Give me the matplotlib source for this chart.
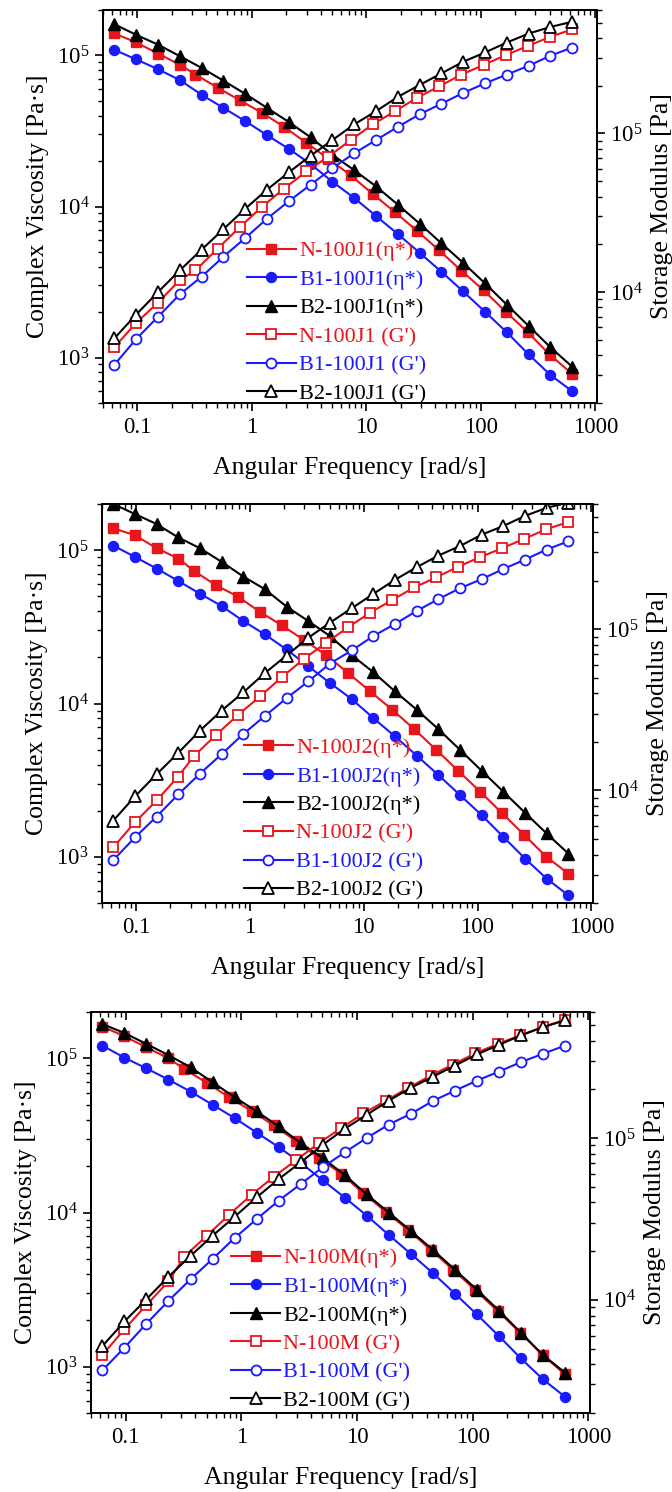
import matplotlib
matplotlib.use('Agg')
import matplotlib.pyplot as plt
from matplotlib.ticker import LogLocator, NullFormatter, FixedLocator, FixedFormatter

plt.rcParams['font.family'] = ['Liberation Serif', 'DejaVu Serif']
plt.rcParams['mathtext.fontset'] = 'stix'

# ---------------- data ----------------
# angular frequency of the B1 / B2 series [rad/s]
omega = [0.0628, 0.0974, 0.151, 0.234, 0.363, 0.563, 0.873, 1.353, 2.098, 3.253, 5.044,
         7.82, 12.13, 18.8, 29.15, 45.2, 70.09, 108.7, 168.5, 261.2, 405.1, 628.1]
# angular frequency of the N series [rad/s]
omega_N = [0.0628, 0.0974, 0.151, 0.234, 0.321, 0.502, 0.784, 1.224, 1.912, 2.985, 4.662,
           7.282, 11.37, 17.76, 27.73, 43.31, 67.64, 105.6, 165.0, 257.6, 402.3, 628.1]

# ---- panel 1 : J1 ----
J1_N_eta = [1.40e5, 1.22e5, 1.03e5, 8.69e4, 7.48e4, 6.12e4, 5.05e4, 4.17e4, 3.37e4, 2.64e4, 2.07e4,
            1.61e4, 1.21e4, 9.18e3, 6.90e3, 5.12e3, 3.76e3, 2.79e3, 2.01e3, 1.47e3, 1.04e3, 780]
J1_B1_eta = [1.09e5, 9.42e4, 8.11e4, 6.88e4, 5.50e4, 4.50e4, 3.68e4, 2.97e4, 2.41e4, 1.91e4, 1.46e4,
             1.14e4, 8.65e3, 6.58e3, 4.94e3, 3.70e3, 2.74e3, 2.01e3, 1.47e3, 1.05e3, 767, 598]
J1_B2_eta = [1.61e5, 1.37e5, 1.18e5, 9.90e4, 8.28e4, 6.81e4, 5.57e4, 4.50e4, 3.63e4, 2.87e4, 2.20e4,
             1.74e4, 1.36e4, 1.03e4, 7.71e3, 5.71e3, 4.24e3, 3.10e3, 2.24e3, 1.62e3, 1.17e3, 869]
J1_N_G = [4.49e3, 6.40e3, 8.58e3, 1.19e4, 1.37e4, 1.88e4, 2.57e4, 3.45e4, 4.49e4, 5.76e4, 7.15e4,
          9.08e4, 1.14e5, 1.38e5, 1.68e5, 1.98e5, 2.35e5, 2.70e5, 3.12e5, 3.56e5, 4.06e5, 4.53e5]
J1_B1_G = [3.48e3, 5.06e3, 6.98e3, 9.67e3, 1.25e4, 1.67e4, 2.19e4, 2.90e4, 3.74e4, 4.75e4, 6.04e4,
           7.50e4, 9.08e4, 1.10e5, 1.32e5, 1.54e5, 1.80e5, 2.07e5, 2.35e5, 2.67e5, 3.09e5, 3.48e5]
J1_B2_G = [5.11e3, 7.21e3, 1.00e4, 1.37e4, 1.85e4, 2.49e4, 3.35e4, 4.42e4, 5.68e4, 7.24e4, 9.08e4,
           1.14e5, 1.38e5, 1.70e5, 2.02e5, 2.39e5, 2.83e5, 3.24e5, 3.74e5, 4.26e5, 4.69e5, 5.06e5]

# ---- panel 2 : J2 ----
J2_N_eta = [1.39e5, 1.25e5, 1.03e5, 8.82e4, 7.33e4, 5.90e4, 4.98e4, 3.95e4, 3.23e4, 2.59e4, 2.07e4,
            1.58e4, 1.20e4, 9.12e3, 6.81e3, 4.99e3, 3.64e3, 2.66e3, 1.92e3, 1.39e3, 1.00e3, 778]
J2_B1_eta = [1.07e5, 9.04e4, 7.59e4, 6.30e4, 5.20e4, 4.32e4, 3.45e4, 2.82e4, 2.25e4, 1.75e4, 1.36e4,
             1.07e4, 8.04e3, 6.10e3, 4.58e3, 3.42e3, 2.53e3, 1.87e3, 1.35e3, 975, 721, 561]
J2_B2_eta = [2.00e5, 1.72e5, 1.48e5, 1.21e5, 1.03e5, 8.39e4, 6.73e4, 5.56e4, 4.28e4, 3.45e4, 2.75e4,
             2.07e4, 1.60e4, 1.20e4, 9.12e3, 6.81e3, 4.99e3, 3.64e3, 2.66e3, 1.94e3, 1.42e3, 1.05e3]
J2_N_G = [4.43e3, 6.34e3, 8.66e3, 1.22e4, 1.63e4, 2.21e4, 2.94e4, 3.83e4, 5.06e4, 6.56e4, 8.25e4,
          1.03e5, 1.27e5, 1.52e5, 1.82e5, 2.10e5, 2.45e5, 2.81e5, 3.19e5, 3.65e5, 4.18e5, 4.64e5]
J2_B1_G = [3.69e3, 5.11e3, 6.88e3, 9.44e3, 1.27e4, 1.68e4, 2.24e4, 2.90e4, 3.74e4, 4.75e4, 6.13e4,
           7.39e4, 9.08e4, 1.08e5, 1.30e5, 1.54e5, 1.80e5, 2.05e5, 2.37e5, 2.71e5, 3.13e5, 3.52e5]
J2_B2_G = [6.49e3, 9.17e3, 1.26e4, 1.71e4, 2.35e4, 3.13e4, 4.06e4, 5.36e4, 6.88e4, 8.87e4, 1.10e5,
           1.35e5, 1.66e5, 2.03e5, 2.43e5, 2.87e5, 3.29e5, 3.87e5, 4.38e5, 5.06e5, 5.68e5, 6.13e5]

# ---- panel 3 : M ----
M_N_eta = [1.61e5, 1.39e5, 1.18e5, 1.00e5, 8.53e4, 6.93e4, 5.60e4, 4.55e4, 3.67e4, 2.90e4, 2.26e4,
           1.79e4, 1.33e4, 1.01e4, 7.71e3, 5.73e3, 4.26e3, 3.13e3, 2.29e3, 1.66e3, 1.19e3, 892]
M_B1_eta = [1.21e5, 1.01e5, 8.61e4, 7.28e4, 6.09e4, 5.00e4, 4.10e4, 3.30e4, 2.66e4, 2.10e4, 1.62e4,
            1.25e4, 9.55e3, 7.16e3, 5.40e3, 4.05e3, 2.98e3, 2.18e3, 1.58e3, 1.13e3, 828, 637]
M_B2_eta = [1.67e5, 1.46e5, 1.24e5, 1.05e5, 8.75e4, 7.00e4, 5.60e4, 4.53e4, 3.62e4, 2.82e4, 2.26e4,
            1.75e4, 1.31e4, 1.00e4, 7.60e3, 5.73e3, 4.26e3, 3.16e3, 2.31e3, 1.66e3, 1.19e3, 914]
M_N_G = [4.57e3, 6.59e3, 9.31e3, 1.30e4, 1.85e4, 2.49e4, 3.36e4, 4.46e4, 5.77e4, 7.31e4, 9.27e4,
         1.15e5, 1.42e5, 1.70e5, 2.04e5, 2.43e5, 2.84e5, 3.34e5, 3.81e5, 4.30e5, 4.84e5, 5.37e5]
M_B1_G = [3.67e3, 5.07e3, 7.14e3, 9.86e3, 1.34e4, 1.79e4, 2.41e4, 3.15e4, 4.10e4, 5.19e4, 6.59e4,
          8.15e4, 1.00e5, 1.21e5, 1.41e5, 1.69e5, 1.96e5, 2.26e5, 2.57e5, 2.94e5, 3.31e5, 3.72e5]
M_B2_G = [5.19e3, 7.35e3, 1.01e4, 1.39e4, 1.87e4, 2.49e4, 3.26e4, 4.30e4, 5.57e4, 7.07e4, 9.06e4,
          1.14e5, 1.39e5, 1.70e5, 2.04e5, 2.39e5, 2.80e5, 3.28e5, 3.76e5, 4.30e5, 4.84e5, 5.32e5]

sample_tags = ['100J1', '100J2', '100M']
x_ticks = [0.1, 1, 10, 100, 1000]
x_tick_labels = ['0.1', '1', '10', '100', '1000']

panels = [
    (J1_N_eta, J1_B1_eta, J1_B2_eta, J1_N_G, J1_B1_G, J1_B2_G),
    (J2_N_eta, J2_B1_eta, J2_B2_eta, J2_N_G, J2_B1_G, J2_B2_G),
    (M_N_eta, M_B1_eta, M_B2_eta, M_N_G, M_B1_G, M_B2_G),
]

# ---------------- layout ----------------
W, H = 672, 1492
axes_px = [(103, 10, 597, 403), (102, 504, 593, 903), (91, 1012, 590, 1413)]
legend_anchor = [(0.291, 0.205), (0.289, 0.210), (0.281, 0.208)]

RED = '#e8151b'
BLUE = '#1a1aff'
BLACK = '#000000'

fig = plt.figure(figsize=(W / 100, H / 100), dpi=100)

for i, (data, tag) in enumerate(zip(panels, sample_tags)):
    l, t, r, b = axes_px[i]
    rect = [l / W, 1 - b / H, (r - l) / W, (b - t) / H]
    ax = fig.add_axes(rect)
    ax2 = ax.twinx()
    ax3 = ax.twiny()

    n_eta, b1_eta, b2_eta, n_g, b1_g, b2_g = data
    lw = 1.5
    h1, = ax.plot(omega_N, n_eta, color=RED, marker='s', ms=6.5, lw=lw, label=f'N-{tag}(η*)')
    h2, = ax.plot(omega, b1_eta, color=BLUE, marker='o', ms=7.2, lw=lw, label=f'B1-{tag}(η*)')
    h3, = ax.plot(omega, b2_eta, color=BLACK, marker='^', ms=8, lw=lw, label=f'B2-{tag}(η*)')
    h4, = ax2.plot(omega_N, n_g, color=RED, marker='s', ms=6.5, lw=lw, mfc='white', mew=1.3,
                   label=f'N-{tag} (G\')')
    h5, = ax2.plot(omega, b1_g, color=BLUE, marker='o', ms=7.2, lw=lw, mfc='white', mew=1.3,
                   label=f'B1-{tag} (G\')')
    h6, = ax2.plot(omega, b2_g, color=BLACK, marker='^', ms=8.5, lw=lw, mfc='white', mew=1.3,
                   label=f'B2-{tag} (G\')')

    for a in (ax, ax2, ax3):
        a.set_xscale('log')
        a.set_xlim(0.05, 1035)
        for s in a.spines.values():
            s.set_linewidth(1.2)
    ax.set_yscale('log')
    ax2.set_yscale('log')
    ax.set_ylim(500, 2e5)
    ax2.set_ylim(2000, 6e5)

    # x axis (bottom): labelled, ticks out
    ax.xaxis.set_major_locator(FixedLocator(x_ticks))
    ax.xaxis.set_major_formatter(FixedFormatter(x_tick_labels))
    ax.xaxis.set_minor_locator(LogLocator(base=10, subs=range(2, 10), numticks=20))
    ax.xaxis.set_minor_formatter(NullFormatter())
    ax.tick_params(axis='x', which='major', direction='out', length=6, width=1.2,
                   labelsize=16.5, pad=4, top=False)
    ax.tick_params(axis='x', which='minor', direction='out', length=3.5, width=1.0, top=False)

    # top mirror ticks: inward, no labels
    ax3.xaxis.set_major_locator(FixedLocator(x_ticks))
    ax3.xaxis.set_minor_locator(LogLocator(base=10, subs=range(2, 10), numticks=20))
    ax3.xaxis.set_major_formatter(NullFormatter())
    ax3.xaxis.set_minor_formatter(NullFormatter())
    ax3.tick_params(axis='x', which='major', direction='in', length=6, width=1.2)
    ax3.tick_params(axis='x', which='minor', direction='in', length=3.5, width=1.0)

    # left y axis
    ax.yaxis.set_major_locator(LogLocator(base=10, numticks=10))
    ax.yaxis.set_minor_locator(LogLocator(base=10, subs=range(2, 10), numticks=20))
    ax.yaxis.set_minor_formatter(NullFormatter())
    ax.tick_params(axis='y', which='major', direction='out', length=6, width=1.2,
                   labelsize=16.5, right=False)
    ax.tick_params(axis='y', which='minor', direction='out', length=3.5, width=1.0, right=False)

    # right y axis
    ax2.yaxis.set_major_locator(LogLocator(base=10, numticks=10))
    ax2.yaxis.set_minor_locator(LogLocator(base=10, subs=range(2, 10), numticks=20))
    ax2.yaxis.set_minor_formatter(NullFormatter())
    ax2.tick_params(axis='y', which='major', direction='out', length=6, width=1.2, labelsize=16.5)
    ax2.tick_params(axis='y', which='minor', direction='out', length=3.5, width=1.0)

    ax.set_xlabel('Angular Frequency [rad/s]', fontsize=18.5, labelpad=14)
    ax.set_ylabel('Complex Viscosity [Pa·s]', fontsize=18.5, labelpad=6)
    ax2.set_ylabel('Storage Modulus [Pa]', fontsize=18.5, labelpad=6)

    hx, cy = legend_anchor[i]
    ax3.legend(handles=[h1, h2, h3, h4, h5, h6], loc='center left', bbox_to_anchor=(hx, cy),
               bbox_transform=ax.transAxes, frameon=False, fontsize=16, labelcolor='linecolor',
               handlelength=2.2, handletextpad=0.15, labelspacing=0.36, borderpad=0,
               borderaxespad=0, numpoints=1)

fig.savefig('out.png', dpi=100)
